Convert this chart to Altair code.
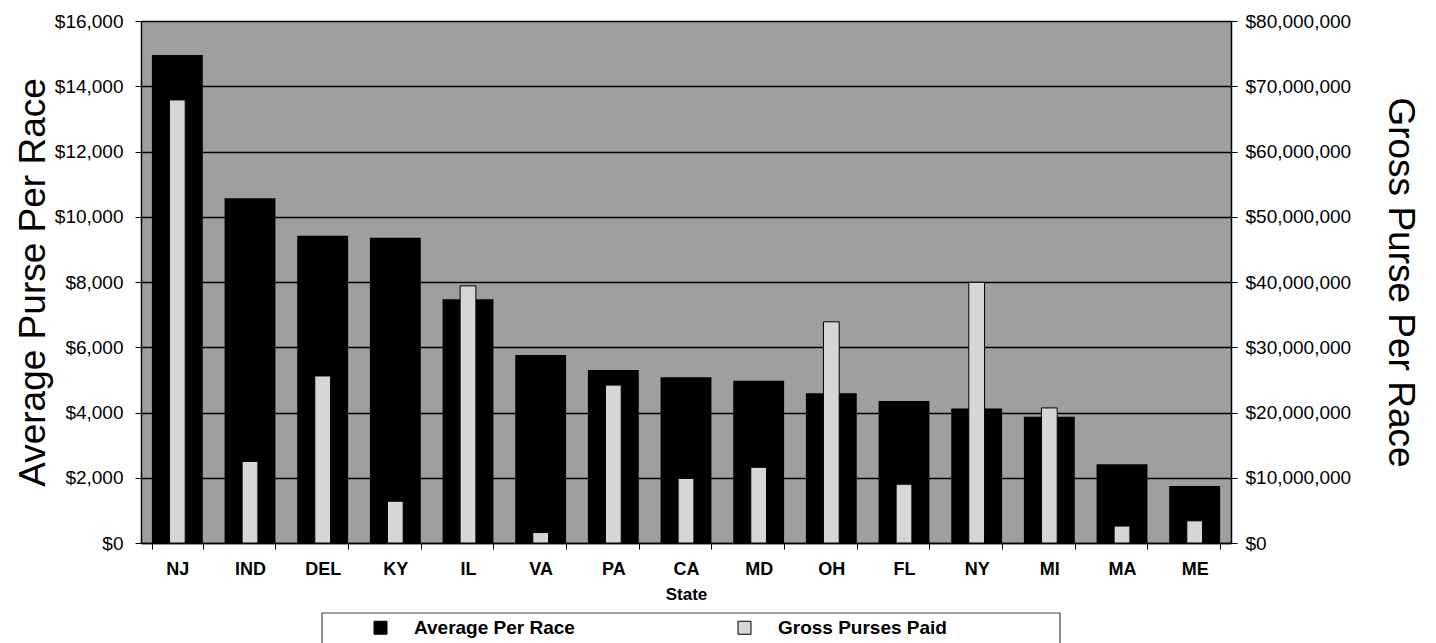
import altair as alt
import pandas as pd

states = ["NJ", "IND", "DEL", "KY", "IL", "VA", "PA", "CA", "MD", "OH", "FL", "NY", "MI", "MA", "ME"]
avg_per_race = [14960, 10570, 9420, 9360, 7470, 5760, 5300, 5080, 4970, 4590, 4350, 4120, 3870, 2410, 1750]
gross_purses = [67900000, 12500000, 25600000, 6400000, 39400000, 1600000, 24200000, 9900000,
                11600000, 33900000, 9000000, 39950000, 20700000, 2600000, 3400000]
series_names = ["Average Per Race", "Gross Purses Paid"]
left_ticks = [0, 2000, 4000, 6000, 8000, 10000, 12000, 14000, 16000]
right_ticks = [0, 10000000, 20000000, 30000000, 40000000, 50000000, 60000000, 70000000, 80000000]

df = pd.DataFrame(
    {
        "state": states * 2,
        "series": [series_names[0]] * len(states) + [series_names[1]] * len(states),
        "value": avg_per_race + gross_purses,
    }
)

W, H = 1090, 522
FONT = "Liberation Sans"

color = alt.Color(
    "series:N",
    scale=alt.Scale(domain=series_names, range=["#000000", "#d6d6d6"]),
    legend=alt.Legend(
        title=None,
        orient="none",
        direction="horizontal",
        legendX=230,
        legendY=597,
        symbolType="square",
        symbolSize=169,
        symbolStrokeColor="#000000",
        symbolStrokeWidth=1,
        labelFont=FONT,
        labelFontSize=19,
        labelFontWeight="bold",
        labelColor="#000000",
        labelLimit=0,
        labelOffset=24,
        columnPadding=160,
        padding=0,
    ),
)

x = alt.X(
    "state:N",
    sort=states,
    scale=alt.Scale(paddingInner=0.3, paddingOuter=0.15),
    axis=alt.Axis(
        title="State",
        titleFont=FONT,
        titleFontSize=17,
        titleFontWeight="bold",
        titleColor="#000000",
        titleBaseline="alphabetic",
        titleY=56,
        labelAngle=0,
        labelFont=FONT,
        labelFontSize=18,
        labelFontWeight="bold",
        labelColor="#000000",
        labelBaseline="alphabetic",
        labelPadding=25,
        tickBand="extent",
        tickSize=6,
        tickColor="#000000",
        domainColor="#000000",
        domainWidth=1.5,
        grid=False,
    ),
)

base = alt.Chart(df)

avg_bars = base.transform_filter(alt.datum.series == series_names[0]).mark_bar().encode(
    x=x,
    y=alt.Y(
        "value:Q",
        scale=alt.Scale(domain=[0, 16000], nice=False),
        axis=alt.Axis(
            orient="left",
            values=left_ticks,
            format="$,.0f",
            title="Average Purse Per Race",
            titleFont=FONT,
            titleFontSize=37,
            titleFontWeight="normal",
            titleColor="#000000",
            titleAngle=270,
            titleBaseline="alphabetic",
            titleX=-97,
            titleY=H / 2,
            labelFont=FONT,
            labelFontSize=19,
            labelColor="#000000",
            labelPadding=12,
            tickSize=6,
            tickColor="#000000",
            domainColor="#000000",
            domainWidth=1.5,
            grid=True,
            gridColor="#000000",
            gridWidth=1.3,
        ),
    ),
    color=color,
)

gross_bars = base.transform_filter(alt.datum.series == series_names[1]).mark_bar(
    width=alt.RelativeBandSize(0.31), stroke="#000000", strokeWidth=1
).encode(
    x=x,
    y=alt.Y(
        "value:Q",
        scale=alt.Scale(domain=[0, 80000000], nice=False),
        axis=alt.Axis(
            orient="right",
            values=right_ticks,
            format="$,.0f",
            title="Gross Purse Per Race",
            titleFont=FONT,
            titleFontSize=37,
            titleFontWeight="normal",
            titleColor="#000000",
            titleAngle=90,
            titleBaseline="alphabetic",
            titleX=157,
            titleY=H / 2,
            labelFont=FONT,
            labelFontSize=19,
            labelColor="#000000",
            labelPadding=8,
            tickSize=6,
            tickColor="#000000",
            domainColor="#000000",
            domainWidth=1.5,
            grid=False,
        ),
    ),
    color=color,
)

frame = alt.Chart(pd.DataFrame({"k": [0]})).mark_rect(
    fill="transparent", stroke="#444444", strokeWidth=1.2
).encode(
    x=alt.value(181), x2=alt.value(919), y=alt.value(592), y2=alt.value(660)
)

chart = (
    alt.layer(avg_bars, gross_bars, frame)
    .resolve_scale(y="independent")
    .properties(
        width=W,
        height=H,
        autosize=alt.AutoSizeParams(type="none"),
        padding={"left": 133, "top": 13, "right": 197, "bottom": 100},
        background="#ffffff",
    )
    .configure_view(fill="#9f9f9f", stroke="transparent")
)

chart.save("out.html", embed_options={"renderer": "svg", "actions": False})
